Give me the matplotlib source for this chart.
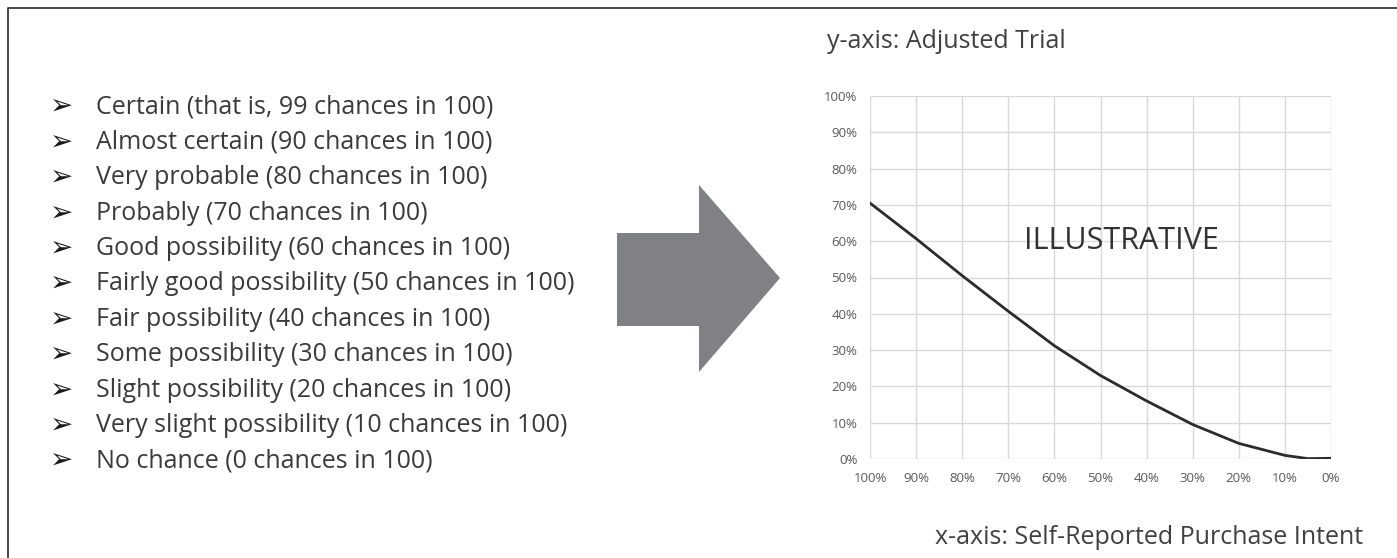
import matplotlib
matplotlib.use("Agg")
import matplotlib.pyplot as plt
from matplotlib.patches import Polygon
from matplotlib.lines import Line2D

# scale labels shown on the left
scale_items = [
    "Certain (that is, 99 chances in 100)",
    "Almost certain (90 chances in 100)",
    "Very probable (80 chances in 100)",
    "Probably (70 chances in 100)",
    "Good possibility (60 chances in 100)",
    "Fairly good possibility (50 chances in 100)",
    "Fair possibility (40 chances in 100)",
    "Some possibility (30 chances in 100)",
    "Slight possibility (20 chances in 100)",
    "Very slight possibility (10 chances in 100)",
    "No chance (0 chances in 100)",
]

# curve
intent = [100, 90, 80, 70, 60, 50, 40, 30, 20, 10, 5, 0]
adjusted_trial = [70.5, 60.7, 50.5, 40.7, 31.2, 23.0, 16.0, 9.5, 4.3, 1.0, 0.1, 0.2]
tick_values = [100, 90, 80, 70, 60, 50, 40, 30, 20, 10, 0]

W, H = 1397, 558
FONT = ["Open Sans", "DejaVu Sans"]


def fx(px):
    return px / W


def fy(py):
    return 1 - py / H


fig = plt.figure(figsize=(W / 100, H / 100), dpi=100)

# frame lines (left and top only)
fig.add_artist(Line2D([fx(8), fx(8), fx(W)], [fy(H), fy(8), fy(8)],
                      color="#3a3a3a", lw=1.3))

# bullet list
y0, dy = 107, 35.4
for i, item in enumerate(scale_items):
    y = y0 + i * dy
    fig.text(fx(50), fy(y), "\u27a2", family="DejaVu Sans", fontsize=20,
             color="#1a1a1a", va="center", ha="left")
    fig.text(fx(96), fy(y), item, family=FONT, fontsize=18,
             color="#3a3a3a", va="center", ha="left")

# big grey arrow
arrow_px = [(617, 233), (699, 233), (699, 185), (780, 278),
            (699, 372), (699, 326), (617, 326)]
fig.add_artist(Polygon([(fx(x), fy(y)) for x, y in arrow_px], closed=True,
                       transform=fig.transFigure, facecolor="#808184",
                       edgecolor="none"))

# chart
ax = fig.add_axes([fx(870), fy(459), fx(1331) - fx(870), fy(96) - fy(459)])
ax.plot(intent, adjusted_trial, color="#2b2b2b", lw=2, zorder=3)
ax.set_xlim(100, 0)
ax.set_ylim(0, 100)
ax.set_xticks(tick_values)
ax.set_yticks(tick_values)
ax.set_xticklabels([f"{v}%" for v in tick_values])
ax.set_yticklabels([f"{v}%" for v in tick_values])
ax.grid(True, color="#d9d9d9", lw=1)
ax.set_axisbelow(True)
for s in ax.spines.values():
    s.set_visible(False)
ax.tick_params(length=0, labelsize=9.5, labelcolor="#595959", pad=9)
for lab in ax.get_xticklabels() + ax.get_yticklabels():
    lab.set_family(FONT)

ax.text(0.545, 0.6, "ILLUSTRATIVE", transform=ax.transAxes, family=FONT,
        fontsize=22, color="#333333", ha="center", va="center")

fig.text(fx(827), fy(42), "y-axis: Adjusted Trial", family=FONT, fontsize=18,
         color="#404040", ha="left", va="center")
fig.text(fx(1363), fy(537), "x-axis: Self-Reported Purchase Intent", family=FONT,
         fontsize=18, color="#404040", ha="right", va="center")

fig.savefig("out.png", dpi=100)
